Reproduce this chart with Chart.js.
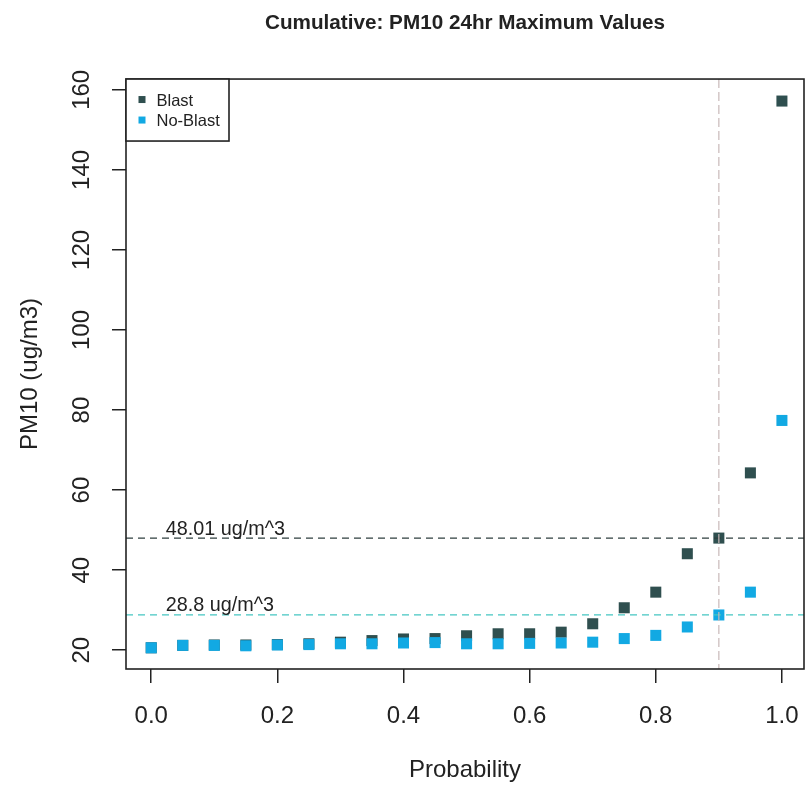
<!DOCTYPE html>
<html>
<head>
<meta charset="utf-8">
<title>Cumulative: PM10 24hr Maximum Values</title>
<script src="https://cdn.jsdelivr.net/npm/chart.js@4.4.0/dist/chart.umd.min.js"></script>
<style>
  html, body { margin: 0; padding: 0; background: #fff; overflow: hidden; }
  #chart { display: block; }
</style>
</head>
<body>
<canvas id="chart" width="805" height="788"></canvas>
<script>
// data
const probability = [0.0, 0.05, 0.1, 0.15, 0.2, 0.25, 0.3, 0.35, 0.4, 0.45, 0.5,
  0.55, 0.6, 0.65, 0.7, 0.75, 0.8, 0.85, 0.9, 0.95, 1.0];
const blast = [20.6, 21.2, 21.3, 21.3, 21.4, 21.6, 22.0, 22.4, 22.8, 22.9, 23.6,
  24.1, 24.1, 24.5, 26.6, 30.6, 34.5, 44.1, 48.01, 64.3, 157.2];
const noBlast = [20.6, 21.2, 21.2, 21.1, 21.3, 21.4, 21.6, 21.6, 21.8, 21.9, 21.6,
  21.6, 21.7, 21.8, 22.0, 22.9, 23.7, 25.8, 28.8, 34.5, 77.4];
const seriesNames = ['Blast', 'No-Blast'];

const xTicks = [0.0, 0.2, 0.4, 0.6, 0.8, 1.0];
const yTicks = [20, 40, 60, 80, 100, 120, 140, 160];

// reference lines (abline) and their labels
const hLines = [48.01, 28.8];
const hLabels = ['48.01 ug/m^3', '28.8 ug/m^3'];
const vLines = [0.9];
const labelAtX = 0.023;

const FONT = "'Liberation Sans', Arial, sans-serif";
const BLAST_COLOR = '#2F4F4F';
const NOBLAST_COLOR = '#12A9E3';
const hLineColors = ['#2F3F3F', '#45C6C2'];

const toPoints = ys => probability.map((p, i) => ({ x: p, y: ys[i] }));

// R-style box, rotated y tick labels, ablines and the legend
const extras = {
  id: 'extras',
  afterDatasetsDraw(chart) {
    const { ctx, chartArea: a, scales: { x, y } } = chart;
    ctx.save();

    // dashed horizontal lines + labels
    hLines.forEach((v, i) => {
      const py = y.getPixelForValue(v);
      ctx.strokeStyle = hLineColors[i];
      ctx.lineWidth = 1.3;
      ctx.setLineDash([7, 5]);
      ctx.beginPath();
      ctx.moveTo(a.left, py);
      ctx.lineTo(a.right, py);
      ctx.stroke();

      ctx.setLineDash([]);
      ctx.fillStyle = '#222';
      ctx.font = '19.8px ' + FONT;
      ctx.textAlign = 'left';
      ctx.textBaseline = 'alphabetic';
      ctx.fillText(hLabels[i], x.getPixelForValue(labelAtX), py - 3.5);
    });

    // dashed vertical line
    vLines.forEach(v => {
      const px = x.getPixelForValue(v);
      ctx.strokeStyle = '#C9B9B9';
      ctx.lineWidth = 1.2;
      ctx.setLineDash([9, 4]);
      ctx.beginPath();
      ctx.moveTo(px, a.top);
      ctx.lineTo(px, a.bottom);
      ctx.stroke();
    });
    ctx.setLineDash([]);

    // box round the plot
    ctx.strokeStyle = '#222';
    ctx.lineWidth = 1.6;
    ctx.strokeRect(a.left, a.top, a.right - a.left, a.bottom - a.top);

    // legend in the top left corner
    const lx = a.left, ly = a.top, lw = 103, lh = 62;
    ctx.fillStyle = '#fff';
    ctx.fillRect(lx, ly, lw, lh);
    ctx.strokeRect(lx, ly, lw, lh);
    ctx.font = '16.5px ' + FONT;
    ctx.textBaseline = 'middle';
    chart.data.datasets.forEach((ds, i) => {
      const cy = ly + 21 + i * 20.5;
      ctx.fillStyle = ds.backgroundColor;
      ctx.fillRect(lx + 12.5, cy - 4, 7, 7);
      ctx.fillStyle = '#222';
      ctx.fillText(ds.label, lx + 30.5, cy + 1);
    });

    // y tick labels, rotated like R's default las = 0
    ctx.font = '24px ' + FONT;
    ctx.fillStyle = '#222';
    ctx.textAlign = 'center';
    ctx.textBaseline = 'alphabetic';
    y.ticks.forEach(t => {
      const py = y.getPixelForValue(t.value);
      ctx.save();
      ctx.translate(89, py);
      ctx.rotate(-Math.PI / 2);
      ctx.fillText(String(t.value), 0, 0);
      ctx.restore();
    });

    ctx.restore();
  }
};

new Chart(document.getElementById('chart'), {
  type: 'scatter',
  data: {
    datasets: [
      {
        label: seriesNames[0],
        data: toPoints(blast),
        backgroundColor: BLAST_COLOR,
        borderWidth: 0,
        pointStyle: 'rect',
        pointRadius: 7.8,
        order: 1,
      },
      {
        label: seriesNames[1],
        data: toPoints(noBlast),
        backgroundColor: NOBLAST_COLOR,
        borderWidth: 0,
        pointStyle: 'rect',
        pointRadius: 7.8,
        order: 0,
      },
    ],
  },
  options: {
    responsive: false,
    animation: false,
    layout: { autoPadding: false, padding: { left: 0, right: 1, top: 0, bottom: 0 } },
    plugins: {
      legend: { display: false },
      tooltip: { enabled: false },
      title: {
        display: true,
        text: 'Cumulative: PM10 24hr Maximum Values',
        fullSize: false,
        color: '#222',
        font: { family: FONT, size: 20.7, weight: 'bold' },
        padding: { top: 10.4, bottom: 43.8 },
      },
    },
    scales: {
      x: {
        type: 'linear',
        min: -0.04,
        max: 1.035,
        afterBuildTicks: s => { s.ticks = xTicks.map(v => ({ value: v })); },
        afterFit: s => {
          s.height = 119;
          // no extra room for the last label: the box runs to the edge
          s.paddingLeft = 0;
          s.paddingRight = 0;
        },
        grid: { drawOnChartArea: false, drawTicks: true, tickLength: 14, color: '#222', lineWidth: 1.5 },
        border: { display: false },
        ticks: {
          color: '#222',
          font: { family: FONT, size: 24 },
          padding: 19,
          maxRotation: 0,
          callback: v => Number(v).toFixed(1),
        },
        title: {
          display: true,
          text: 'Probability',
          color: '#222',
          font: { family: FONT, size: 24 },
          padding: { top: 0, bottom: 3 },
        },
      },
      y: {
        type: 'linear',
        min: 15.3,
        max: 162.7,
        afterBuildTicks: s => { s.ticks = yTicks.map(v => ({ value: v })); },
        afterFit: s => { s.width = 126; s.paddingTop = 0; s.paddingBottom = 0; },
        grid: { drawOnChartArea: false, drawTicks: true, tickLength: 14, color: '#222', lineWidth: 1.5 },
        border: { display: false },
        ticks: { display: false },
        title: {
          display: true,
          text: 'PM10 (ug/m3)',
          color: '#222',
          font: { family: FONT, size: 24 },
          padding: { top: 16, bottom: 0 },
        },
      },
    },
  },
  plugins: [extras],
});
</script>
</body>
</html>
